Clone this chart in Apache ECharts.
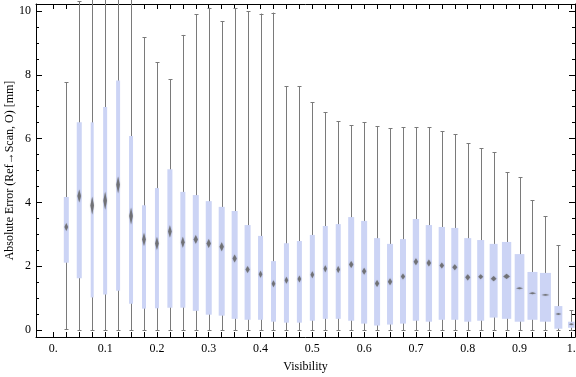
<!DOCTYPE html>
<html>
<head>
<meta charset="utf-8">
<script src="https://cdn.jsdelivr.net/npm/echarts@6/dist/echarts.min.js"></script>
<style>html,body{margin:0;padding:0;background:#fff}#c{width:576px;height:377px}</style>
</head>
<body>
<div id="c"></div>
<script>
// ---- data ----
const visibility = [0.025,0.05,0.075,0.1,0.125,0.15,0.175,0.2,0.225,0.25,0.275,0.3,0.325,0.35,0.375,0.4,0.425,0.45,0.475,0.5,0.525,0.55,0.575,0.6,0.625,0.65,0.675,0.7,0.725,0.75,0.775,0.8,0.825,0.85,0.875,0.9,0.925,0.95,0.975,1.0];
const whiskerLow = [0.02,0,0,0,0,0,0,0,0,0,0,0,0,0,0,0,0,0,0,0,0,0,0,0,0,0,0,0,0,0,0,0,0,0,0,0,0,0,0,0];
const q1 = [2.11,1.62,1.02,1.11,1.23,0.82,0.67,0.68,0.70,0.70,0.60,0.48,0.45,0.35,0.32,0.32,0.26,0.23,0.23,0.29,0.35,0.35,0.29,0.20,0.14,0.17,0.20,0.29,0.26,0.32,0.32,0.26,0.29,0.39,0.35,0.26,0.32,0.26,0.04,0.07];
const median = [3.23,4.20,3.90,4.05,4.55,3.57,2.84,2.71,3.09,2.75,2.84,2.71,2.61,2.24,1.90,1.75,1.45,1.56,1.60,1.73,1.92,1.90,2.05,1.84,1.46,1.51,1.68,2.14,2.10,2.02,1.97,1.65,1.67,1.61,1.68,1.31,1.15,1.10,0.50,0.18];
const q3 = [4.17,6.51,6.51,6.99,7.82,6.08,3.91,4.45,5.04,4.33,4.23,4.04,3.86,3.73,3.29,2.95,2.16,2.72,2.79,2.98,3.26,3.32,3.54,3.42,2.88,2.70,2.85,3.48,3.29,3.23,3.20,2.88,2.82,2.70,2.76,2.38,1.82,1.79,0.75,0.26];
const whiskerHigh = [7.76,10.31,11.0,11.5,12.0,11.0,9.18,8.39,7.86,9.25,9.90,10.10,9.68,10.09,9.99,9.92,9.95,7.64,7.64,7.14,6.82,6.54,6.42,6.51,6.38,6.33,6.36,6.36,6.36,6.23,6.13,5.85,5.70,5.57,4.94,4.79,4.07,3.56,2.66,0.62];
// median confidence diamond (full height, in mm)
const medianNotch = [0.25,0.41,0.56,0.56,0.53,0.53,0.41,0.41,0.38,0.34,0.28,0.28,0.28,0.25,0.22,0.22,0.22,0.22,0.22,0.22,0.22,0.22,0.22,0.22,0.22,0.22,0.19,0.22,0.22,0.19,0.19,0.19,0.16,0.16,0.16,0.06,0.06,0.06,0.06,0.06];
// box widths (in visibility units)
const boxWidth = [0.0097,0.0097,0.0058,0.0077,0.0077,0.0077,0.0077,0.0077,0.0097,0.0097,0.0116,0.0116,0.0116,0.0116,0.0116,0.0097,0.0097,0.0097,0.0097,0.0097,0.0097,0.0097,0.0116,0.0116,0.0116,0.0116,0.0116,0.0122,0.0122,0.0122,0.0135,0.0135,0.0135,0.0154,0.018,0.0187,0.0193,0.0212,0.0154,0.0127];
const xLabelValues = [0,0.1,0.2,0.3,0.4,0.5,0.6,0.7,0.8,0.9,1.0];
const xLabelText = ['0.','0.1','0.2','0.3','0.4','0.5','0.6','0.7','0.8','0.9','1.'];
const xTickValues = [0].concat(visibility);
const yLabelValues = [0,2,4,6,8,10];
const yMinorValues = [0.5,1,1.5,2.5,3,3.5,4.5,5,5.5,6.5,7,7.5,8.5,9,9.5];

// ---- chart ----
const FONT = 'Liberation Serif';
const X_MIN = -0.0335, X_MAX = 1.0071, Y_MIN = -0.2194, Y_MAX = 10.2194;
const data = visibility.map((v, i) => [v, whiskerLow[i], q1[i], median[i], q3[i], whiskerHigh[i], boxWidth[i], medianNotch[i]]);

function renderItem(params, api) {
  const x = api.value(0);
  const pLo = api.coord([x, api.value(1)]);
  const pQ1 = api.coord([x, api.value(2)]);
  const pMed = api.coord([x, api.value(3)]);
  const pQ3 = api.coord([x, api.value(4)]);
  const pHi = api.coord([x, api.value(5)]);
  const w = api.size([api.value(6), 0])[0];
  const nh = api.size([0, api.value(7)])[1];
  const cx = pMed[0];
  const lx = Math.round(cx) + 0.5;
  const grey = '#7a7a7a';
  const ls = {stroke: grey, lineWidth: 1};
  const dw = Math.max(1.8, w * 0.36);
  return {
    type: 'group',
    children: [
      {type: 'line', shape: {x1: lx, y1: pLo[1], x2: lx, y2: pHi[1]}, style: ls},
      {type: 'line', shape: {x1: lx - 2, y1: Math.round(pLo[1]) + 0.5, x2: lx + 2, y2: Math.round(pLo[1]) + 0.5}, style: ls},
      {type: 'line', shape: {x1: lx - 2, y1: Math.round(pHi[1]) + 0.5, x2: lx + 2, y2: Math.round(pHi[1]) + 0.5}, style: ls},
      {type: 'rect', shape: {x: cx - w / 2, y: pQ3[1], width: w, height: pQ1[1] - pQ3[1]}, style: {fill: '#ccd4f5'}},
      {type: 'polygon', shape: {points: [[cx, pMed[1] - nh / 2], [cx + dw, pMed[1]], [cx, pMed[1] + nh / 2], [cx - dw, pMed[1]]]},
       style: {fill: 'rgba(100,100,100,0.8)', shadowBlur: 1.5, shadowColor: 'rgba(90,90,90,0.5)'}}
    ]
  };
}

const axisLineStyle = {show: true, onZero: false, lineStyle: {color: '#000', width: 1}};
const noLine = {show: false, onZero: false};
const tickStyle = {color: '#000', width: 1};
const labelStyle = {fontFamily: FONT, fontSize: 12, color: '#000'};

const option = {
  animation: false,
  backgroundColor: '#fff',
  grid: {left: 36, right: 1, top: 4, bottom: 40, containLabel: false, outerBoundsMode: 'none'},
  xAxis: [
    {type: 'value', position: 'bottom', min: X_MIN, max: X_MAX,
     axisLine: axisLineStyle,
     axisTick: {show: true, inside: true, length: 5, lineStyle: tickStyle, customValues: xTickValues},
     axisLabel: Object.assign({show: true, margin: 6, customValues: xLabelValues,
       formatter: v => { const i = xLabelValues.findIndex(t => Math.abs(t - v) < 1e-6); return i >= 0 ? xLabelText[i] : ''; }}, labelStyle),
     splitLine: {show: false},
     name: 'Visibility', nameLocation: 'middle', nameGap: 24, nameMoveOverlap: false,
     nameTextStyle: {fontFamily: FONT, fontSize: 12, color: '#000'}},
    {type: 'value', position: 'top', min: X_MIN, max: X_MAX,
     axisLine: axisLineStyle,
     axisTick: {show: true, inside: true, length: 5, lineStyle: tickStyle, customValues: xTickValues},
     axisLabel: {show: false}, splitLine: {show: false}}
  ],
  yAxis: [
    {type: 'value', position: 'left', min: Y_MIN, max: Y_MAX,
     axisLine: axisLineStyle,
     axisTick: {show: true, inside: true, length: 6, lineStyle: tickStyle, customValues: yLabelValues},
     axisLabel: Object.assign({show: true, margin: 5, customValues: yLabelValues, formatter: v => String(Math.round(v))}, labelStyle),
     splitLine: {show: false},
     name: 'Absolute Error (Ref\u2192Scan, O) [mm]', nameLocation: 'middle', nameGap: 20, nameMoveOverlap: false,
     nameTextStyle: {fontFamily: FONT, fontSize: 12, color: '#000'}},
    {type: 'value', position: 'left', min: Y_MIN, max: Y_MAX,
     axisLine: noLine,
     axisTick: {show: true, inside: true, length: 3, lineStyle: tickStyle, customValues: yMinorValues},
     axisLabel: {show: false}, splitLine: {show: false}},
    {type: 'value', position: 'right', min: Y_MIN, max: Y_MAX,
     axisLine: axisLineStyle,
     axisTick: {show: true, inside: true, length: 6, lineStyle: tickStyle, customValues: yLabelValues},
     axisLabel: {show: false}, splitLine: {show: false}},
    {type: 'value', position: 'right', min: Y_MIN, max: Y_MAX,
     axisLine: noLine,
     axisTick: {show: true, inside: true, length: 3, lineStyle: tickStyle, customValues: yMinorValues},
     axisLabel: {show: false}, splitLine: {show: false}}
  ],
  series: [{
    type: 'custom',
    xAxisIndex: 0, yAxisIndex: 0,
    clip: false,
    renderItem: renderItem,
    data: data,
    z: 1
  }]
};

const chart = echarts.init(document.getElementById('c'), null, {renderer: 'canvas'});
chart.setOption(option);
</script>
</body>
</html>
